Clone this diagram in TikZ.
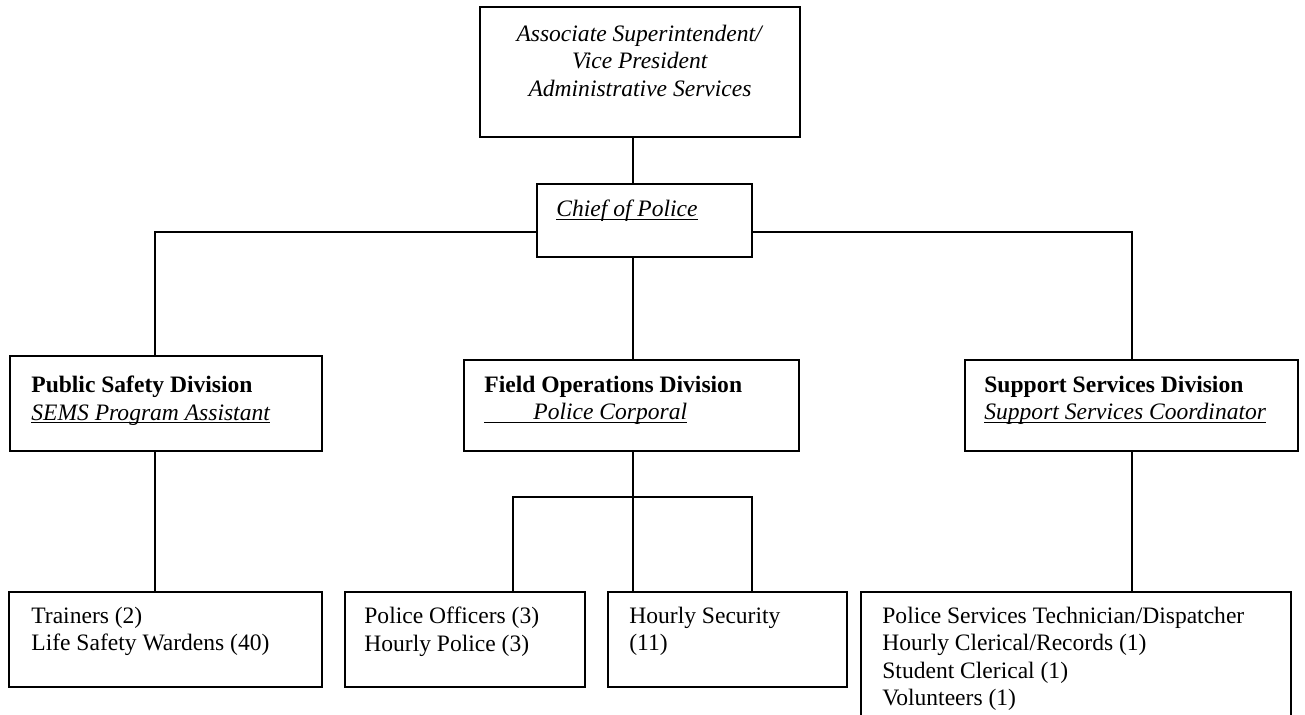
\documentclass[tikz,border=0pt]{standalone}
\usepackage{fontspec}
\setmainfont{Liberation Serif}
\usetikzlibrary{fit}

% underline at a fixed depth, crossing descenders
\newsavebox\ulbox
\newcommand{\ulword}[1]{\sbox\ulbox{#1}\rlap{\rule[-1.8pt]{\wd\ulbox}{0.8pt}}\usebox\ulbox}

\begin{document}
\begin{tikzpicture}[x=0.02cm, y=-0.02cm, font=\fontsize{13.4}{15.5}\selectfont]

	\tikzset{
		unitbox/.style={draw, line width=1.1pt, inner sep=0pt},
		unittext/.style={anchor=north west, align=left, inner sep=0pt},
		link/.style={line width=1pt}
	}

	\useasboundingbox (0,0) rectangle (1305,715);
	\clip (0,0) rectangle (1305,715);

	% ----------------------------------------------------
	% Leadership
	% ----------------------------------------------------
	\node[unitbox, fit={(480,7) (800,137)}] (vp) {};
	\node[unittext, anchor=north, align=center] (vptext) at ([shift={(0,19)}]vp.north)
		{\textit{Associate Superintendent/}\\\textit{Vice President}\\\textit{Administrative Services}};

	\node[unitbox, fit={(537,184) (752,257)}] (chief) {};
	\node[unittext] (chieftext) at ([shift={(20,17)}]chief.north west) {\ulword{\textit{Chief of Police}}};

	% ----------------------------------------------------
	% Divisions
	% ----------------------------------------------------
	\node[unitbox, fit={(10,356) (322,451)}] (psd) {};
	\node[unittext] (psdtext) at ([shift={(22,21)}]psd.north west)
		{\textbf{Public Safety Division}\\\ulword{\textit{SEMS Program Assistant}}};

	\node[unitbox, fit={(464,360) (799,451)}] (fod) {};
	\node[unittext] (fodtext) at ([shift={(21,17)}]fod.north west)
		{\textbf{Field Operations Division}\\\ulword{\makebox[0.98cm]{}\textit{Police Corporal}}};

	\node[unitbox, fit={(965,360) (1298,451)}] (ssd) {};
	\node[unittext] (ssdtext) at ([shift={(20,17)}]ssd.north west)
		{\textbf{Support Services Division}\\\ulword{\textit{Support Services Coordinator}}};

	% ----------------------------------------------------
	% Staff
	% ----------------------------------------------------
	\node[unitbox, fit={(9,592) (322,687)}] (trn) {};
	\node[unittext] (trntext) at ([shift={(23,16)}]trn.north west)
		{Trainers (2)\\Life Safety Wardens (40)};

	\node[unitbox, fit={(345,592) (585,687)}] (pof) {};
	\node[unittext] (poftext) at ([shift={(20,16)}]pof.north west)
		{Police Officers (3)\\Hourly Police (3)};

	\node[unitbox, fit={(608,592) (847,687)}] (hsec) {};
	\node[unittext] (hsectext) at ([shift={(22,16)}]hsec.north west)
		{Hourly Security\\(11)};

	\node[unitbox, fit={(861,592) (1291,760)}] (sstaff) {}; % runs off the page
	\node[unittext] (sstafftext) at ([shift={(22,16)}]sstaff.north west)
		{Police Services Technician/Dispatcher\\Hourly Clerical/Records (1)\\Student Clerical (1)\\Volunteers (1)};

	% ----------------------------------------------------
	% Connectors
	% ----------------------------------------------------
	\coordinate (topbus) at (0,232);
	\coordinate (fobus) at (0,497);
	\coordinate (spine) at (633,0);
	\coordinate (pscol) at (155,0);
	\coordinate (sscol) at (1132,0);
	\coordinate (pocol) at (513,0);
	\coordinate (hscol) at (752,0);

	\draw[link] (vp.south -| spine) -- (chief.north -| spine);
	\draw[link] (chief.west |- topbus) -| (pscol |- psd.north);
	\draw[link] (chief.east |- topbus) -| (sscol |- ssd.north);
	\draw[link] (chief.south -| spine) -- (fod.north -| spine);
	\draw[link] (psd.south -| pscol) -- (trn.north -| pscol);
	\draw[link] (fod.south -| spine) -- (hsec.north -| spine);
	\draw[link] (pof.north -| pocol) -- (pocol |- fobus) -- (hscol |- fobus) -- (hsec.north -| hscol);
	\draw[link] (ssd.south -| sscol) -- (sstaff.north -| sscol);

\end{tikzpicture}
\end{document}
